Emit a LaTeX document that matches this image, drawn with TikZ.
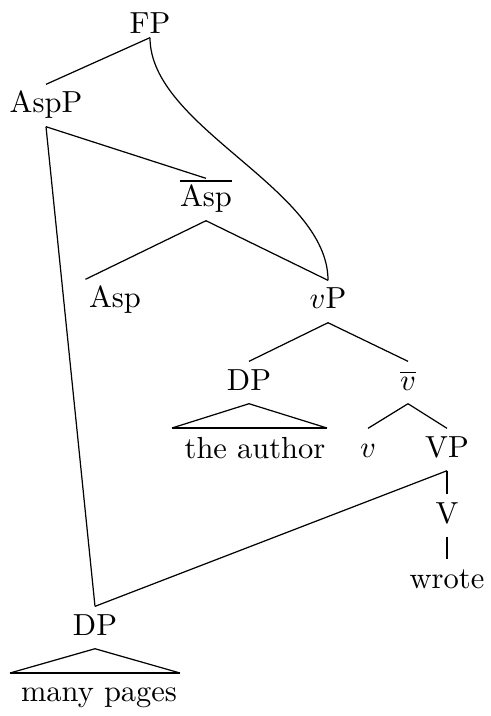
\documentclass[tikz,border=0pt]{standalone}
\usepackage{amsmath}
\usepackage{tikz}

\tikzset{
  lbl/.style={anchor=base, inner sep=1pt, text height=8.2pt, text depth=3.3pt},
  roof/.style={thick},
  unary/.style={thick},
}

\begin{document}
\begin{tikzpicture}[x=0.328pt, y=-0.328pt]
\useasboundingbox (0,0) rectangle (490,716);

\node[lbl, text depth=0pt] (FP) at (150,34) {FP};
\node[lbl] (AspP) at (46,113) {AspP};
\node[lbl] (Aspbar) at (206,207) {$\overline{\mbox{Asp}}$};
\node[lbl] (Asp) at (115,308) {Asp};
\node[lbl] (vP) at (328,309) {$v$P};
\node[lbl] (DP-subj) at (249,390) {DP};
\node[lbl] (vbar) at (408,390) {$\overline{v}$};
\node[lbl] (v) at (368,457) {$v$};
\node[lbl] (VP) at (447,457) {VP};
\node[lbl] (V) at (447,523) {V};
\node[lbl] (wrote) at (447,588) {wrote};
\node[lbl] (DP-obj) at (95,635) {DP};
\node[lbl] (author) at (255,458) {the author};
\node[lbl] (pages) at (99,701) {many pages};

\coordinate (author-l) at (172,428);
\coordinate (author-r) at (327,428);
\coordinate (pages-l) at (10,673);
\coordinate (pages-r) at (180,673);

% branches
\draw (FP.south) -- (AspP.north);
\draw (FP.south) .. controls +(0,90) and +(0,-92) .. (vP.north);
\draw (AspP.south) -- (Aspbar.north);
\draw (AspP.south) -- (DP-obj.north);
\draw (Aspbar.south) -- (Asp.north west);
\draw (Aspbar.south) -- (vP.north);
\draw (vP.south) -- (DP-subj.north);
\draw (vP.south) -- (vbar.north);
\draw (vbar.south) -- (v.north);
\draw (vbar.south) -- (VP.north);
\draw (VP.south) -- (DP-obj.north);
\draw[unary] (VP.south) -- (V.north);
\draw[unary] (V.south) -- (wrote.north);

% roofs
\draw (author-l) -- (DP-subj.south) -- (author-r);
\draw[roof] (author-l) -- (author-r);
\draw (pages-l) -- (DP-obj.south) -- (pages-r);
\draw[roof] (pages-l) -- (pages-r);

\end{tikzpicture}
\end{document}
